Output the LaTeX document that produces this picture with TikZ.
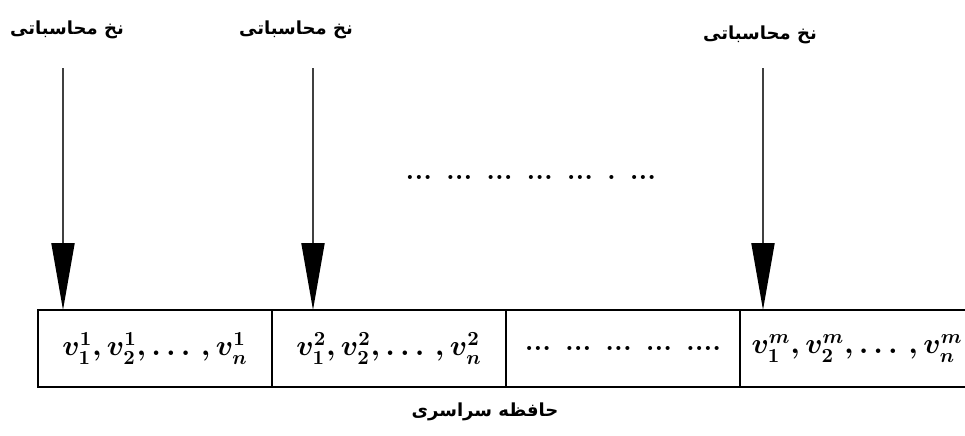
\documentclass[tikz,border=0pt]{standalone}
\usepackage{amsmath, amssymb}
\usepackage{xcolor}
\usepackage{fontspec}
\newfontfamily\arabicfont[Script=Arabic]{DejaVu Sans}
\TeXXeTstate=1
\usepackage{tikz}
\usetikzlibrary{arrows.meta,positioning}
\tikzset{
    cell/.style={
        draw, line width=1.3pt, minimum width=117pt, minimum height=38.5pt,
        inner sep=0pt, outer sep=0pt, font=\fontsize{14}{17}\selectfont\boldmath
    },
    thread/.style={
        line width=1pt, draw=black!75,
        -{Triangle[length=33.5pt, width=11.5pt, color=black]}
    },
    fatext/.style={font=\fontsize{9}{11}\selectfont\arabicfont\bfseries}
}

\begin{document}
\begin{tikzpicture}[x=0.5pt, y=-0.5pt]
\useasboundingbox (0,0) rectangle (965,435);

% Celle della memoria
\node[cell] (c1) at (155,348.5) {$v_1^1, v_2^1, \ldots\,, v_n^1$};
\node[cell, right=0pt of c1] (c2) {$v_1^2, v_2^2, \ldots\,, v_n^2$};
\node[cell, right=0pt of c2] (c3) {\textbf{... ... ... ... ....}};
\node[cell, right=0pt of c3] (c4) {$v_1^m, v_2^m, \ldots\,, v_n^m$};

% Etichetta memoria
\node[fatext] (mem) at (485,412) {\beginR حافظه سراسری\endR};

% Etichette dei thread
\node[fatext] (l1) at (67,30) {\beginR نخ محاسباتی\endR};
\node[fatext] (l2) at (296,30) {\beginR نخ محاسباتی\endR};
\node[fatext] (l3) at (760,35) {\beginR نخ محاسباتی\endR};

% Punti di partenza
\coordinate (t1) at (63,68);
\coordinate (t2) at (313,68);
\coordinate (t3) at (763,68);

% Frecce
\draw[thread] (t1) -- (t1 |- c1.north);
\draw[thread] (t2) -- (t2 |- c2.north);
\draw[thread] (t3) -- (t3 |- c4.north);

% Puntini centrali
\node[font=\fontsize{14}{17}\selectfont\bfseries] (dots) at (531,177)
    {... ... ... ... ... . ...};

\end{tikzpicture}
\end{document}
